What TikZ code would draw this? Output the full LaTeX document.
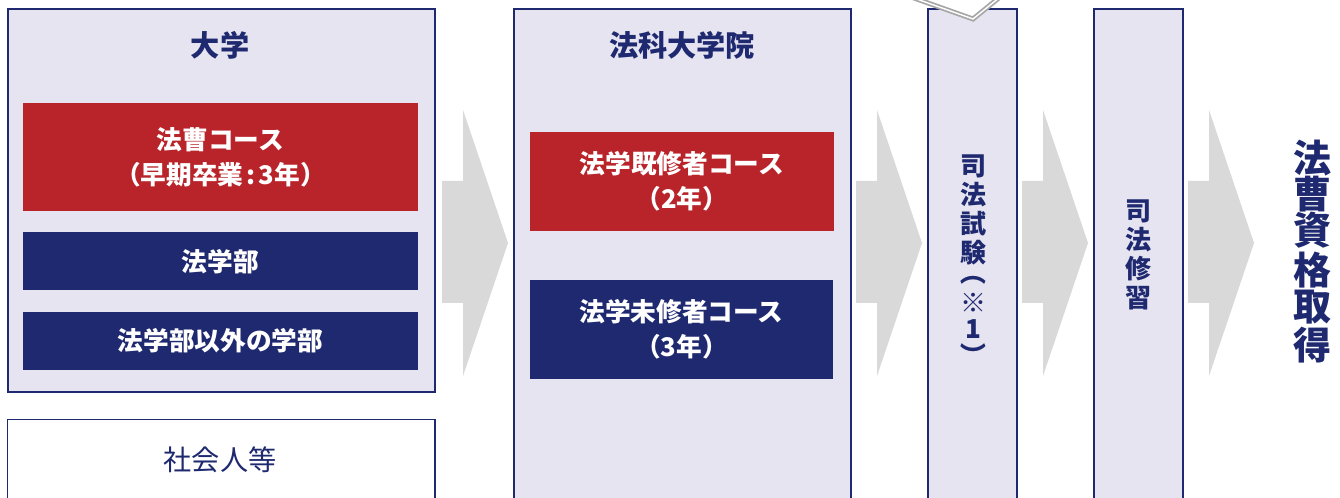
\documentclass[tikz,border=0pt]{standalone}
\usepackage{fontspec}
\setmainfont{Noto Sans CJK JP}
\usetikzlibrary{positioning}
\definecolor{navy}{HTML}{1F2970}
\definecolor{lawred}{HTML}{B8242A}
\definecolor{lavender}{HTML}{E6E4F1}
\definecolor{arrowgray}{HTML}{D9D9D9}
\tikzset{%
	column/.style   = {draw=navy, line width=0.6pt, fill=lavender, rectangle, anchor=north west, inner sep=0pt},
	society/.style  = {draw=navy, line width=0.4pt, fill=white}, % white box
	course/.style   = {rectangle, text=white, inner sep=0pt, align=center, minimum width=3.95cm,
	                   font=\bfseries\fontsize{7.3pt}{10pt}\selectfont},
	redcourse/.style  = {course, fill=lawred},
	bluecourse/.style = {course, fill=navy},
	heading/.style  = {text=navy, font=\bfseries\fontsize{8.3pt}{10pt}\selectfont},
	vlabel/.style   = {text=navy, align=center, inner sep=0pt, font=\bfseries\fontsize{7.4pt}{8.25pt}\selectfont},
	biglabel/.style = {text=navy, align=center, inner sep=0pt, font=\bfseries\fontsize{10.8pt}{10.25pt}\selectfont},
	bigarrow/.style = {fill=arrowgray},
	paperedge/.style= {draw=gray!70, line width=0.5pt, double=white, double distance=0.4pt, fill=white},
}
\newcommand{\vparen}[1]{\rotatebox[origin=c]{-90}{#1}}
\begin{document}
\begin{tikzpicture}[x=0.01cm, y=-0.01cm]
	\path[use as bounding box] (0,0) rectangle (1340,498);
	\clip (0,0) rectangle (1340,498);

	% columns
	\node[column, minimum width=4.27cm, minimum height=3.83cm] (univ) at (7,8) {};
	\node[column, society, minimum width=4.27cm, minimum height=1cm] (shakai) at (7,419) {};
	\node[column, minimum width=3.37cm, minimum height=5cm] (school) at (513,8) {};
	\node[column, minimum width=0.89cm, minimum height=5cm] (exam) at (927,8) {};
	\node[column, minimum width=0.89cm, minimum height=5cm] (training) at (1093,8) {};

	% big gray arrows
	\foreach \x in {442,856,1022,1188}
		\fill[bigarrow] (\x,181) -- (\x+21,181) -- (\x+21,110) -- (\x+66,243)
			-- (\x+21,376) -- (\x+21,303) -- (\x,303) -- cycle;

	% paper corner at the top
	\draw[paperedge] (911,-3) -- (973,19) -- (1000,-3);

	% university
	\node[heading] (univtitle) at (220,45) {大学};
	\node[redcourse, minimum height=1.08cm] (hoso) at (220.5,157) {法曹コース\\（早期卒業\hspace{0.12em}:\hspace{0.12em}3年）};
	\node[bluecourse, minimum height=0.58cm, below=0.2cm of hoso] (lawdept) {法学部};
	\node[bluecourse, minimum height=0.58cm, below=0.2cm of lawdept] (otherdept) {法学部以外の学部};
	\node[text=navy, font=\fontsize{8pt}{10pt}\selectfont] (shakaitext) at (220,460) {社会人等};

	% law school
	\node[heading] (schooltitle) at (682,45) {法科大学院};
	\node[redcourse, minimum width=3.04cm, minimum height=0.99cm] (kishu) at (682,181.5) {法学既修者コース\\（2年）};
	\node[bluecourse, minimum width=3.03cm, minimum height=0.99cm] (mishu) at (681.5,329.5) {法学未修者コース\\（3年）};

	% vertical labels
	\node[vlabel] (examtext) at (973,262) {司\\法\\試\\験\\[-2.6pt]\vparen{（}\\[0.3pt]※\\[-0.85pt]1\\[-0.57pt]\vparen{）}};
	\node[vlabel] (trainingtext) at (1138,254.5) {司\\法\\修\\習};
	\node[biglabel] (goal) at (1312,251.5) {法\\曹\\資\\格\\取\\得};
\end{tikzpicture}
\end{document}
